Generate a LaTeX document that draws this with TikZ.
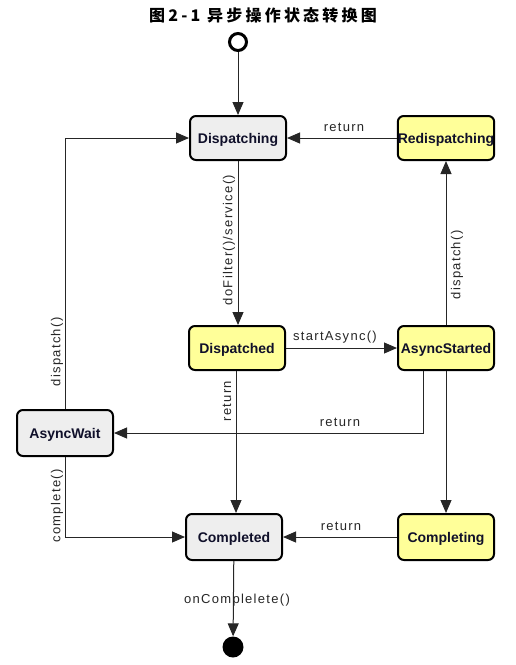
\documentclass[tikz,border=0pt]{standalone}
\usepackage{fontspec}
\setmainfont{Liberation Sans}
\newfontfamily\cjkfont[LetterSpace=20]{Noto Sans CJK SC}
\newfontfamily\lblfont[LetterSpace=10]{Liberation Sans}
\usetikzlibrary{arrows.meta}
\definecolor{gbox}{HTML}{EEEEEE}
\definecolor{ybox}{HTML}{FFFF99}
\definecolor{ntext}{HTML}{10102A}
\begin{document}
\begin{tikzpicture}[x=1pt,y=-1pt,
  state/.style={draw=black, line width=2pt, rounded corners=6pt, minimum width=96pt, minimum height=44pt, inner sep=0pt, text height=10pt, text depth=0pt, font=\bfseries\fontsize{14}{16}\selectfont, text=ntext},
  gstate/.style={state, fill=gbox},
  ystate/.style={state, fill=ybox},
  conn/.style={draw=black!85, line width=1pt, -{Triangle[length=13pt,width=11pt]}},
  lbl/.style={font=\lblfont\fontsize{13}{15}\selectfont, inner sep=1pt, text=black!85}]
\useasboundingbox (0,0) rectangle (515,665);

\node[font=\cjkfont\bfseries\fontsize{16}{18}\selectfont] (title) at (263,15) {图2-1 异步操作状态转换图};

\node[draw=black, circle, line width=3pt, minimum size=17pt, inner sep=0pt] (start) at (238,42) {};
\node[fill=black, circle, minimum size=21pt, inner sep=0pt] (end) at (233,647) {};

\node[gstate] (Dispatching) at (238,138) {Dispatching};
\node[ystate] (Redispatching) at (446,138) {Redispatching};
\node[ystate] (Dispatched) at (237,348) {Dispatched};
\node[ystate] (AsyncStarted) at (446,348) {AsyncStarted};
\node[gstate, minimum height=46pt] (AsyncWait) at (65,433) {AsyncWait};
\node[gstate, minimum height=46pt] (Completed) at (234,537) {Completed};
\node[ystate, minimum height=46pt] (Completing) at (446,537) {Completing};

\draw[conn] (start) -- (Dispatching);
\draw[conn] (Redispatching) -- (Dispatching);
\draw[conn] (Dispatching.south) -- (Dispatching.south |- Dispatched.north);
\draw[conn] (Dispatched) -- (AsyncStarted);
\draw[conn] (AsyncStarted) -- (Redispatching);
\draw[conn] (AsyncStarted) -- (Completing);
\draw[conn] ([xshift=-23pt]AsyncStarted.south) |- (AsyncWait.east);
\draw[conn] ([xshift=-1pt]Dispatched.south) -- ([xshift=-1pt]Dispatched.south |- Completed.north);
\draw[conn] (Completing) -- (Completed);
\draw[conn] (AsyncWait.north) |- (Dispatching.west);
\draw[conn] (AsyncWait.south) |- (Completed.west);
\draw[conn] (Completed) -- (end);

\node[lbl] (l1) at (344,127) {return};
\node[lbl, rotate=90] (l2) at (229,240) {doFilter()/service()};
\node[lbl, rotate=90] (l3) at (457,265) {dispatch()};
\node[lbl] (l4) at (335,337) {startAsync()};
\node[lbl] (l5) at (340,422) {return};
\node[lbl, rotate=90] (l6) at (227,401) {return};
\node[lbl, rotate=90] (l7) at (57,352) {dispatch()};
\node[lbl, rotate=90] (l8) at (57,506) {complete()};
\node[lbl] (l9) at (341,526) {return};
\node[lbl] (l10) at (237,600) {onComplelete()};
\end{tikzpicture}
\end{document}
